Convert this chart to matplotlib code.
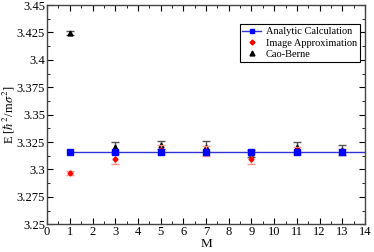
import matplotlib
matplotlib.use('Agg')
import matplotlib.pyplot as plt
from matplotlib.lines import Line2D
import numpy as np

plt.rcParams['font.family'] = ['Liberation Serif', 'DejaVu Serif']
plt.rcParams['mathtext.fontset'] = 'stix'

M = [1, 3, 5, 7, 9, 11, 13]
analytic = [3.3157] * 7
image_E = [3.2969, 3.3098, 3.3179, 3.3166, 3.3098, 3.3175, 3.3161]
image_err = [0.0015, 0.0045, 0.004, 0.0045, 0.005, 0.003, 0.003]
cao_E = [3.4246, 3.3206, 3.3224, 3.3206, 3.3148, 3.3205, 3.3180]
cao_err = [0.0018, 0.0048, 0.004, 0.005, 0.003, 0.005, 0.0045]

fig = plt.figure(figsize=(3.74, 2.52), dpi=100)
ax = fig.add_axes([0.126, 0.11, 0.85, 0.87])

# analytic value drawn as a flat line out to the edge
ax.plot([M[0], 14.5], [analytic[0], analytic[0]], color='#3333dd', lw=1, zorder=2)
ax.plot(M, analytic, 's', color='#0000ff', ms=4, zorder=5)
ax.errorbar(M, image_E, yerr=image_err, fmt='D', color='red', ms=2.5,
            ecolor='#ff9090', elinewidth=1, capsize=3, capthick=1, zorder=4)
ax.errorbar(M, cao_E, yerr=cao_err, fmt='^', color='black', ms=3.5,
            ecolor='#555555', elinewidth=1, capsize=3, capthick=1, zorder=3)

ax.set_xlim(0, 14)
ax.set_ylim(3.25, 3.45)
ax.set_xticks(np.arange(0, 15, 1))
ax.set_xticks(np.arange(0, 14, 0.5), minor=True)
ax.set_yticks([3.25, 3.275, 3.3, 3.325, 3.35, 3.375, 3.4, 3.425, 3.45])
ax.set_yticklabels(['3.25', '3.275', '3.3', '3.325', '3.35', '3.375', '3.4', '3.425', '3.45'])
ax.set_yticks(np.arange(3.25, 3.45, 0.0125), minor=True)
ax.tick_params(which='both', direction='in', top=True, right=True, labelsize=9, pad=1.5)
ax.tick_params(which='major', length=4)
ax.tick_params(which='minor', length=2)
for s in ax.spines.values():
    s.set_color('#444444')
    s.set_linewidth(1)

ax.set_xlabel('M', fontsize=9.5, labelpad=0)
ax.set_ylabel(r'E [$\hbar^2$/m$\sigma^2$]', fontsize=9, labelpad=0)

handles = [
    Line2D([], [], color='#3333dd', lw=1, marker='s', mfc='#0000ff', mec='#0000ff', ms=3.5),
    Line2D([], [], ls='none', marker='D', color='red', ms=2.5),
    Line2D([], [], ls='none', marker='^', color='black', ms=3.5),
]
labels = ['Analytic Calculation', 'Image Approximation', 'Cao-Berne']
leg = ax.legend(handles, labels, loc='upper right', bbox_to_anchor=(1.0, 0.935), fontsize=7.5,
                fancybox=False, edgecolor='black', framealpha=1,
                handlelength=1.8, handletextpad=0.5, borderpad=0.25, labelspacing=0.2)
leg.get_frame().set_linewidth(0.8)

fig.savefig('out.png', dpi=100)
